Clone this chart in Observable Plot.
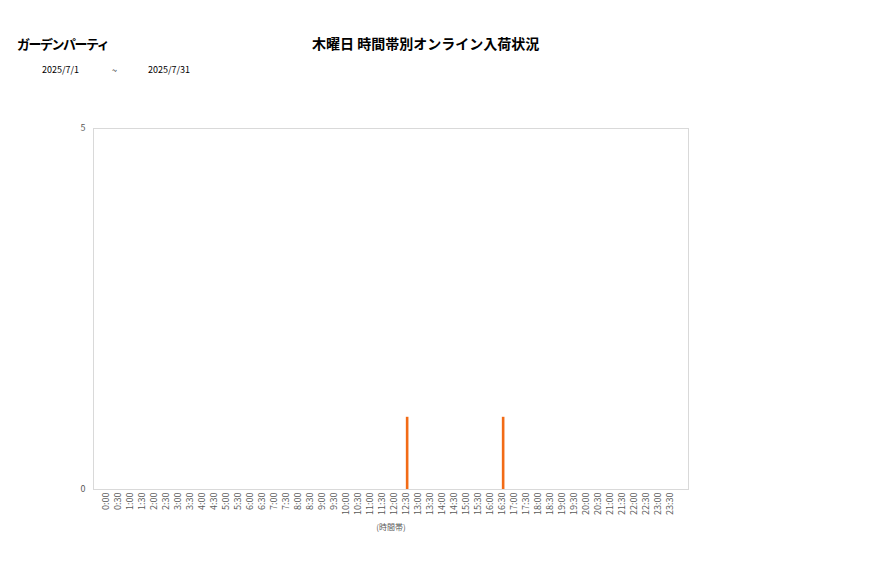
<!DOCTYPE html>
<html><head><meta charset="utf-8">
<script src="https://cdn.jsdelivr.net/npm/d3@7"></script>
<script src="https://cdn.jsdelivr.net/npm/@observablehq/plot@0.6"></script>
<style>
body{margin:0;background:#fff;font-family:"Noto Sans CJK JP","Noto Sans",sans-serif;}
#wrap{position:relative;width:877px;height:578px;overflow:hidden;}
.t{position:absolute;white-space:nowrap;color:#000;z-index:2;}
#chart{position:absolute;left:0;top:0;z-index:1;}
</style></head>
<body>
<div id="wrap">
  <div id="chart"></div>
  <div class="t" id="store" style="left:17px;top:34px;font-size:13px;letter-spacing:-1.5px;font-weight:bold;"></div>
  <div class="t" id="title" style="left:312px;top:33px;font-size:14px;font-weight:bold;"></div>
  <div class="t" id="d1" style="left:42px;top:63px;font-size:9px;"></div>
  <div class="t" id="d2" style="left:112px;top:64px;font-size:9px;"></div>
  <div class="t" id="d3" style="left:148px;top:63px;font-size:9px;"></div>
</div>
<script>
const storeName = "ガーデンパーティ";
const chartTitle = "木曜日 時間帯別オンライン入荷状況";
const dateFrom = "2025/7/1";
const dateSep = "~";
const dateTo = "2025/7/31";
const xLabel = "(時間帯)";
const timeSlots = ["0:00","0:30","1:00","1:30","2:00","2:30","3:00","3:30","4:00","4:30","5:00","5:30","6:00","6:30","7:00","7:30","8:00","8:30","9:00","9:30","10:00","10:30","11:00","11:30","12:00","12:30","13:00","13:30","14:00","14:30","15:00","15:30","16:00","16:30","17:00","17:30","18:00","18:30","19:00","19:30","20:00","20:30","21:00","21:30","22:00","22:30","23:00","23:30"];
const counts = [0,0,0,0,0,0,0,0,0,0,0,0,0,0,0,0,0,0,0,0,0,0,0,0,0,1,0,0,0,0,0,0,0,1,0,0,0,0,0,0,0,0,0,0,0,0,0,0];
const yTicks = [0, 5];

document.getElementById("store").textContent = storeName;
document.getElementById("title").textContent = chartTitle;
document.getElementById("d1").textContent = dateFrom;
document.getElementById("d2").textContent = dateSep;
document.getElementById("d3").textContent = dateTo;

const data = timeSlots.map((t, i) => ({t, v: counts[i]}));
const W = 877, H = 578;
const ml = 93, mr = 189, mt = 128, mb = 89;
const bw = (W - ml - mr) / timeSlots.length;
const barW = 3;
const barCenter = 0.35;

const chart = Plot.plot({
  width: W, height: H,
  marginLeft: ml, marginRight: mr, marginTop: mt, marginBottom: mb,
  style: {fontFamily: '"Noto Sans CJK JP","Noto Sans",sans-serif', background: "transparent"},
  x: {type: "band", domain: timeSlots, padding: 0, label: null},
  y: {domain: [0, 5], label: null},
  marks: [
    Plot.frame({stroke: "#d9d9d9"}),
    Plot.barY(data, {x: "t", y: "v", fill: "#f26b16",
      insetLeft: bw * barCenter - barW / 2, insetRight: bw - barW - (bw * barCenter - barW / 2)}),
    Plot.axisX({tickRotate: -90, tickSize: 0, tickPadding: 3, dx: -3, fontSize: 9, fill: "#595959", label: null}),
    Plot.axisY({ticks: yTicks, tickFormat: d => String(d), tickSize: 0, tickPadding: 8, fontSize: 9, fill: "#595959", label: null}),
    Plot.text([xLabel], {frameAnchor: "bottom", dy: 40, text: d => d, fontSize: 8, fill: "#595959"})
  ]
});
document.getElementById("chart").appendChild(chart);
</script>
</body></html>
